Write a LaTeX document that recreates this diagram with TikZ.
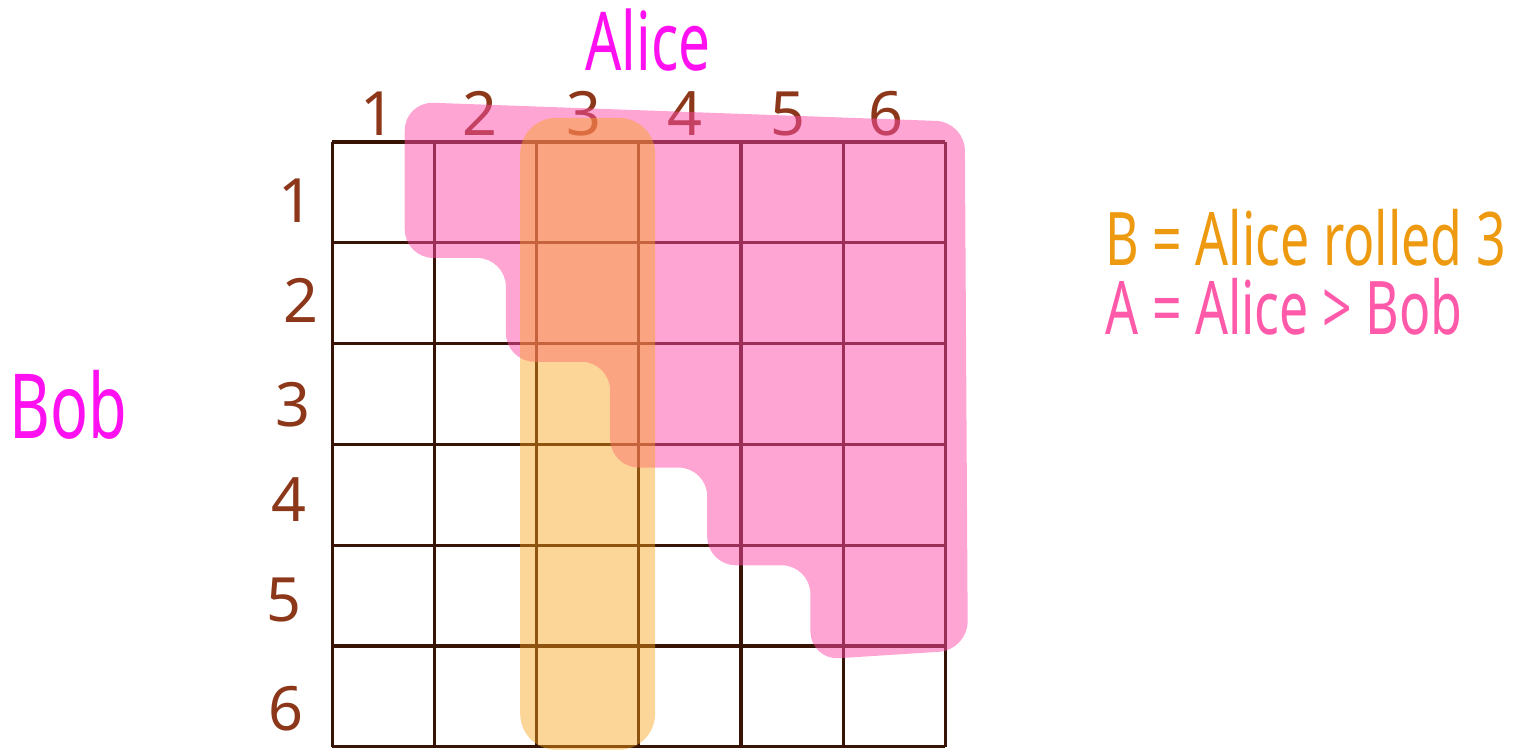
\documentclass[tikz,border=0pt]{standalone}
\usepackage{fontspec}
\setmainfont{Noto Sans}
\definecolor{gridbrown}{RGB}{55,20,5}
\definecolor{digitbrown}{RGB}{140,55,25}
\definecolor{namemag}{RGB}{255,16,240}
\definecolor{textorange}{RGB}{238,154,16}
\definecolor{textpink}{RGB}{255,90,170}
\definecolor{fillpink}{RGB}{255,75,169}
\definecolor{fillorange}{RGB}{248,164,28}
\newcommand{\narrow}[1]{\scalebox{0.7}[1]{#1}}

\begin{document}
\begin{tikzpicture}[yscale=0.986,
  digit/.style={text=digitbrown,font=\fontsize{17}{20}\selectfont,inner sep=0pt},
  player/.style={text=namemag,inner sep=0pt},
  event/.style={font=\fontsize{20.6}{24}\selectfont,inner sep=0pt,anchor=west}]
\path[use as bounding box] (-3.25,1.41) rectangle (11.75,-6.08);

\draw[gridbrown,line width=0.9pt] (0,0) grid (6,-6);

\node[digit] (c1) at (0.45,0.28) {1};
\node[digit] (c2) at (1.45,0.28) {2};
\node[digit] (c3) at (2.46,0.28) {3};
\node[digit] (c4) at (3.45,0.28) {4};
\node[digit] (c5) at (4.46,0.28) {5};
\node[digit] (c6) at (5.42,0.28) {6};

\node[digit] (r1) at (-0.35,-0.58) {1};
\node[digit] (r2) at (-0.31,-1.57) {2};
\node[digit] (r3) at (-0.38,-2.61) {3};
\node[digit] (r4) at (-0.42,-3.55) {4};
\node[digit] (r5) at (-0.47,-4.54) {5};
\node[digit] (r6) at (-0.45,-5.62) {6};

% A: Alice > Bob
\fill[fillpink,opacity=0.5,rounded corners=8pt] (0.71,0.40) -- (6.19,0.20) -- (6.22,-5.04)
  -- (4.68,-5.14) -- (4.68,-4.20) -- (3.67,-4.20) -- (3.67,-3.23) -- (2.72,-3.23)
  -- (2.72,-2.18) -- (1.70,-2.18) -- (1.70,-1.15) -- (0.71,-1.15) -- cycle;
% B: Alice rolled 3
\fill[fillorange,opacity=0.45,rounded corners=10pt] (1.84,0.24) rectangle (3.16,-6.03);

\node[player,font=\fontsize{22.6}{26}\selectfont] (alice) at (3.09,1.01) {\narrow{Alice}};
\node[player,font=\fontsize{25}{29}\selectfont] (bob) at (-2.58,-2.61) {\narrow{Bob}};

\node[event,text=textorange] (evB) at (7.56,-0.95) {\narrow{B = Alice rolled 3}};
\node[event,text=textpink] (evA) at (7.56,-1.63) {\narrow{A = Alice > Bob}};
\end{tikzpicture}
\end{document}
